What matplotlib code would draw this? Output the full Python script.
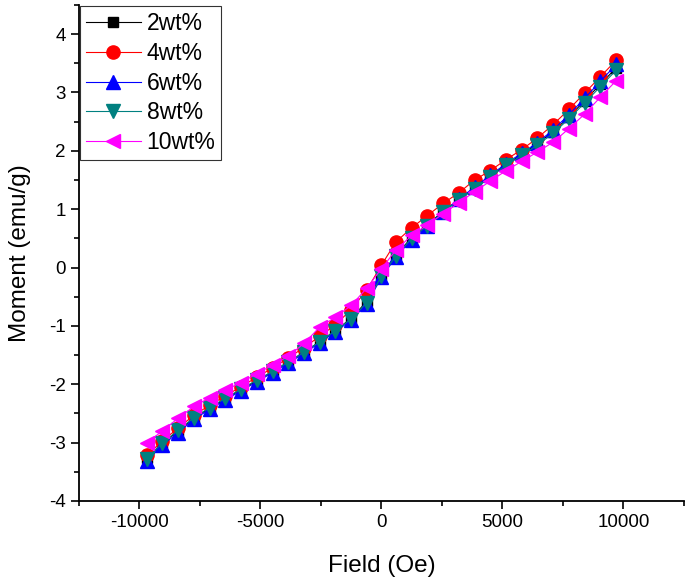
import matplotlib
matplotlib.use("Agg")
import matplotlib.pyplot as plt
from matplotlib.ticker import MultipleLocator

plt.rcParams['font.family'] = ['Liberation Sans', 'DejaVu Sans']
plt.rcParams['axes.unicode_minus'] = False

# field (Oe), one sweep
field = [-9700, -9050, -8400, -7750, -7100, -6450, -5800, -5150, -4500, -3850,
         -3200, -2550, -1900, -1250, -600, 0, 600, 1250, 1900, 2550,
         3200, 3850, 4500, 5150, 5800, 6450, 7100, 7750, 8400, 9050, 9700]

# moment (emu/g) per sample
m2 = [-3.27, -3.01, -2.80, -2.58, -2.41, -2.25, -2.09, -1.94, -1.78, -1.62,
      -1.45, -1.27, -1.08, -0.87, -0.58, -0.13, 0.22, 0.51, 0.74, 0.96,
      1.16, 1.37, 1.56, 1.76, 1.94, 2.12, 2.33, 2.58, 2.86, 3.14, 3.42]
m4 = [-3.22, -2.97, -2.75, -2.53, -2.36, -2.20, -2.04, -1.88, -1.72, -1.55,
      -1.37, -1.18, -0.98, -0.72, -0.38, 0.04, 0.44, 0.68, 0.89, 1.10,
      1.28, 1.50, 1.66, 1.85, 2.02, 2.22, 2.45, 2.71, 2.99, 3.27, 3.55]
m6 = [-3.32, -3.04, -2.83, -2.60, -2.43, -2.27, -2.11, -1.96, -1.80, -1.64,
      -1.47, -1.29, -1.10, -0.90, -0.62, -0.17, 0.18, 0.48, 0.72, 0.96,
      1.17, 1.38, 1.58, 1.78, 1.96, 2.14, 2.36, 2.62, 2.90, 3.19, 3.48]
m8 = [-3.28, -3.00, -2.79, -2.57, -2.40, -2.24, -2.08, -1.93, -1.78, -1.62,
      -1.45, -1.27, -1.08, -0.88, -0.60, -0.15, 0.20, 0.50, 0.72, 0.95,
      1.15, 1.35, 1.55, 1.75, 1.92, 2.10, 2.30, 2.55, 2.82, 3.10, 3.38]
m10 = [-3.00, -2.80, -2.58, -2.38, -2.23, -2.10, -1.97, -1.82, -1.67, -1.52,
       -1.30, -1.02, -0.85, -0.65, -0.35, -0.02, 0.30, 0.55, 0.73, 0.92,
       1.11, 1.30, 1.48, 1.66, 1.82, 1.98, 2.15, 2.38, 2.63, 2.92, 3.20]

labels = ['2wt%', '4wt%', '6wt%', '8wt%', '10wt%']
series = [m2, m4, m6, m8, m10]
colors = ['black', 'red', 'blue', '#008080', 'magenta']
markers = ['s', 'o', '^', 'v', '<']
msizes = [7.5, 9.5, 10, 10, 10]

fig = plt.figure(figsize=(6.85, 5.85), dpi=100)
ax = fig.add_axes([0.1153, 0.1436, 0.883, 0.848])

for y, lab, c, mk, ms in zip(series, labels, colors, markers, msizes):
    ax.plot(field, y, color=c, lw=0.8, marker=mk, ms=ms, mec=c, mfc=c, label=lab)

ax.set_xlim(-12500, 12500)
ax.set_ylim(-4, 4.5)
ax.xaxis.set_major_locator(MultipleLocator(5000))
ax.xaxis.set_minor_locator(MultipleLocator(2500))
ax.yaxis.set_major_locator(MultipleLocator(1))
ax.yaxis.set_minor_locator(MultipleLocator(0.5))

ax.spines['top'].set_visible(False)
ax.spines['right'].set_visible(False)
ax.spines['left'].set_linewidth(1.3)
ax.spines['bottom'].set_linewidth(1.3)
ax.tick_params(which='major', direction='out', length=6, width=1.2, labelsize=13.5)
ax.tick_params(which='minor', direction='out', length=3.5, width=1.2)

ax.set_xlabel('Field (Oe)', fontsize=17.5, labelpad=17)
ax.set_ylabel('Moment (emu/g)', fontsize=17.5, labelpad=13)

leg = ax.legend(loc='upper left', fontsize=16.5, frameon=True, fancybox=False,
                edgecolor='black', handlelength=2.4, labelspacing=0.3,
                borderaxespad=0.05, handletextpad=0.25, borderpad=0.25)
leg.get_frame().set_linewidth(0.8)

fig.savefig('out.png', dpi=100)
